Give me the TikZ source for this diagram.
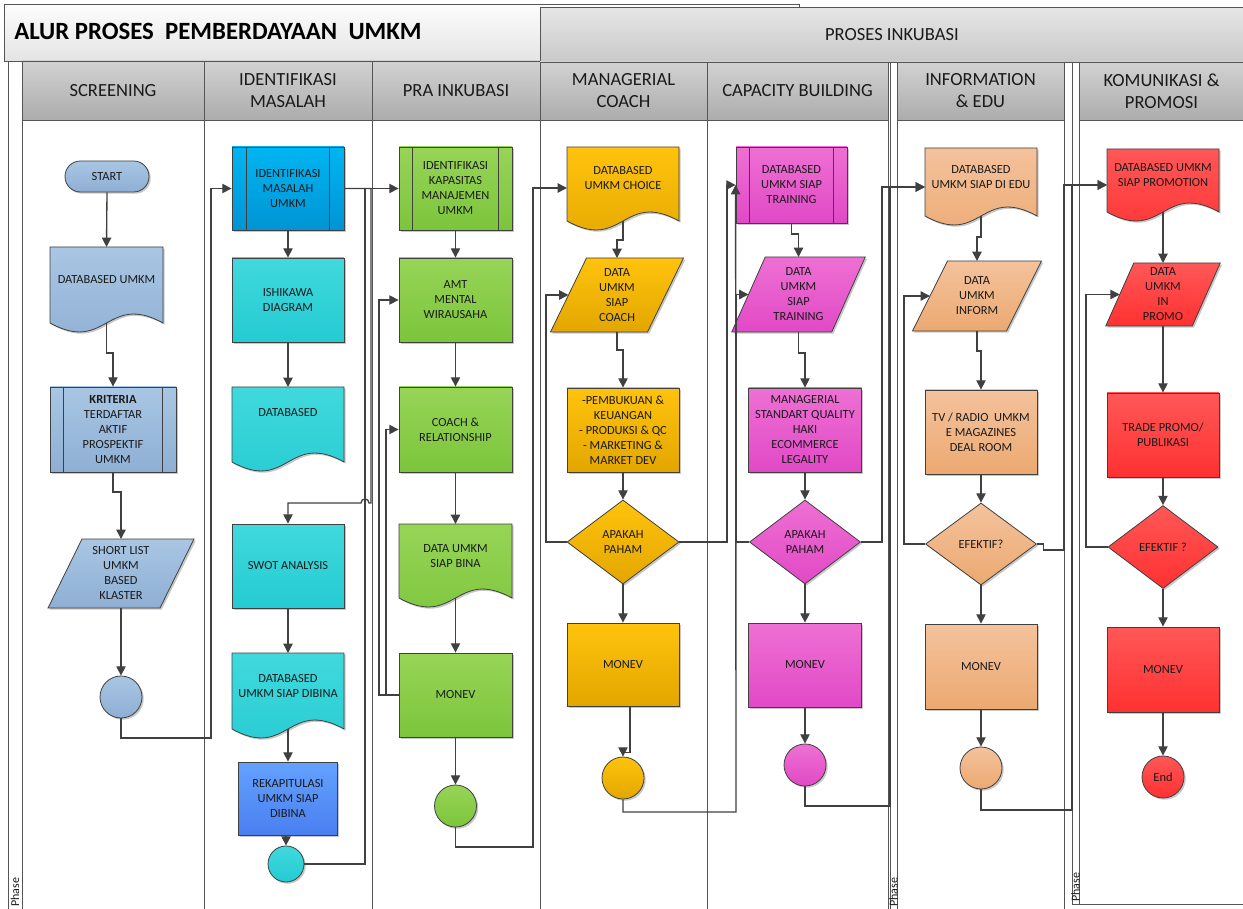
\documentclass[tikz,border=0pt]{standalone}
\usepackage{fontspec}
\setmainfont{Carlito}
\usetikzlibrary{arrows.meta,shapes.geometric,calc,shadows}

\definecolor{lineC}{HTML}{404040}
\definecolor{laneC}{HTML}{555555}
\definecolor{textC}{HTML}{1A1A1A}
\definecolor{sbT}{HTML}{A9C6E3}\definecolor{sbB}{HTML}{8EAFD4}
\definecolor{ibT}{HTML}{00B5F1}\definecolor{ibB}{HTML}{0094D4}
\definecolor{tqT}{HTML}{40D9DD}\definecolor{tqB}{HTML}{24CBD2}
\definecolor{rkT}{HTML}{64A2FF}\definecolor{rkB}{HTML}{4A7FF0}
\definecolor{grT}{HTML}{97D457}\definecolor{grB}{HTML}{7CC53B}
\definecolor{goT}{HTML}{FFC30D}\definecolor{goB}{HTML}{E3A600}
\definecolor{pkT}{HTML}{EE70D3}\definecolor{pkB}{HTML}{E149C6}
\definecolor{peT}{HTML}{F4C29C}\definecolor{peB}{HTML}{ECA971}
\definecolor{rdT}{HTML}{FF5757}\definecolor{rdB}{HTML}{FF3131}
\definecolor{hdT}{HTML}{D2D2D2}\definecolor{hdB}{HTML}{ACACAC}
\definecolor{piT}{HTML}{E6E6E6}\definecolor{piB}{HTML}{C9C9C9}
\definecolor{tiT}{HTML}{FDFDFD}\definecolor{tiB}{HTML}{E4E4E4}

\tikzset{
  bw/.code={\pgfmathsetmacro\tmpbw{(#1)*0.75}\edef\tmpcmd{\noexpand\pgfkeysalso{minimum width=\tmpbw pt}}\tmpcmd},
  bh/.code={\pgfmathsetmacro\tmpbh{(#1)*0.75}\edef\tmpcmd{\noexpand\pgfkeysalso{minimum height=\tmpbh pt}}\tmpcmd},
  shd/.style={drop shadow={shadow xshift=1.3pt,shadow yshift=-1.3pt,opacity=0.22,fill=black}},
  shp/.style={draw=lineC,line width=0.6pt,shd},
  btxt/.style={font=\fontsize{9.3}{11.25}\selectfont,text=textC,align=center},
  rbox/.style={rectangle,shp,btxt,inner sep=1pt},
  holder/.style={rectangle,draw=none,fill=none,inner sep=0pt,outer sep=0pt},
  ptxt/.style={rectangle,btxt,inner sep=0pt,outer sep=0pt},
  circ/.style={circle,shp,btxt,inner sep=0pt},
  dmd/.style={diamond,shp,btxt,inner sep=0pt},
  term/.style={rectangle,rounded corners=11.5pt,shp,btxt},
  fSB/.style={top color=sbT,bottom color=sbB},
  fIB/.style={top color=ibT,bottom color=ibB},
  fTQ/.style={top color=tqT,bottom color=tqB},
  fRK/.style={top color=rkT,bottom color=rkB},
  fGR/.style={top color=grT,bottom color=grB},
  fGO/.style={top color=goT,bottom color=goB},
  fPK/.style={top color=pkT,bottom color=pkB},
  fPE/.style={top color=peT,bottom color=peB},
  fRD/.style={top color=rdT,bottom color=rdB},
  conn/.style={draw=lineC,line width=1pt,-{Triangle[length=7pt,width=7pt]}},
  lane/.style={draw=laneC,line width=0.6pt},
  hdr/.style={rectangle,draw=laneC,line width=0.6pt,top color=hdT,bottom color=hdB,
     font=\fontsize{13.9}{16.5}\selectfont,text=textC,align=center,inner sep=0pt},
  phase/.style={rotate=90,anchor=west,font=\fontsize{9}{10}\selectfont,text=textC,inner sep=0pt}
}

% document shape: name, cx, top, w, h, fill, text, text y
\newcommand\docu[8]{%
  \node[holder,bw=#4,bh=#5] (#1) at (#2,{#3+#5/2}) {};
  \path[shp,#6] (#1.north west) -- (#1.north east) -- (#1.south east)
     .. controls ($(#1.south)+(0,-31)$) and ($(#1.south)+(0,31)$) .. (#1.south west) -- cycle;
  \node[ptxt] (#1t) at (#2,#8) {#7};
}
% parallelogram: name, cx, cy, w, h, offset, fill, text
\newcommand\para[8]{%
  \path[shp,#7] ({#2-#4/2+#6/2},{#3-#5/2}) -- ({#2+#4/2+#6/2},{#3-#5/2})
     -- ({#2+#4/2-#6/2},{#3+#5/2}) -- ({#2-#4/2-#6/2},{#3+#5/2}) -- cycle;
  \node[ptxt,bw={#4+#6},bh=#5] (#1) at (#2,#3) {#8};
  \coordinate (#1w) at ({#2-#4/2},#3);
}
% side bars of a predefined process box
\newcommand\bars[2]{%
  \draw[draw=lineC,line width=0.6pt]
    ([xshift=#2*0.75pt]#1.north west) -- ([xshift=#2*0.75pt]#1.south west)
    ([xshift=-#2*0.75pt]#1.north east) -- ([xshift=-#2*0.75pt]#1.south east);
}

\begin{document}
\begin{tikzpicture}[x=0.75pt,y=-0.75pt]
\useasboundingbox (0,0) rectangle (1243,909);

\coordinate (y185) at (0,185);
\coordinate (y187) at (0,187);
\coordinate (y188) at (0,188);

% ---------- title and top header ----------
\path[draw=laneC,line width=0.6pt,top color=tiT,bottom color=tiB] (4,4) rectangle (799,61);
\node[font=\bfseries\fontsize{18.6}{22}\selectfont,text=black,anchor=west,inner sep=0pt] (title) at (14,31.5) {ALUR PROSES\ \ PEMBERDAYAAN\ \ UMKM};
\node[rectangle,draw=laneC,line width=0.6pt,top color=piT,bottom color=piB,bw=703,bh=55,anchor=north west,
      font=\fontsize{13.9}{16.5}\selectfont,text=textC,inner sep=0pt] (pinkub) at (540,7) {PROSES INKUBASI};

% ---------- lanes ----------
\draw[lane] (8,61) -- (8,909) (22,61) -- (22,909)
  (204,120) -- (204,909) (372,120) -- (372,909) (540,120) -- (540,909)
  (707,120) -- (707,909) (888,62) -- (888,909);
\draw[lane] (890,62) -- (890,909) (897,62) -- (897,909) (1064,62) -- (1064,909);
\draw[lane] (1072,62) -- (1072,904) -- (1243,904) (1079,62) -- (1079,904);

\node[hdr,bw=182,bh=59] (h1) at (113,90.5) {SCREENING};
\node[hdr,bw=168,bh=59] (h2) at (288,90.5) {IDENTIFIKASI\\MASALAH};
\node[hdr,bw=168,bh=59] (h3) at (456,90.5) {PRA INKUBASI};
\node[hdr,bw=167,bh=58] (h4) at (623.5,91) {MANAGERIAL\\COACH};
\node[hdr,bw=181,bh=58] (h5) at (797.5,91) {CAPACITY BUILDING};
\node[hdr,bw=167,bh=58] (h6) at (980.5,91) {INFORMATION\\\& EDU};
\node[hdr,bw=165,bh=58] (h7) at (1161.5,91) {KOMUNIKASI \&\\PROMOSI};

\node[phase] (ph1) at (15,907) {Phase};
\node[phase] (ph2) at (893.5,907) {Phase};
\node[phase] (ph3) at (1075.5,902) {Phase};

% ---------- lane 1: screening ----------
\node[term,fSB,bw=84,bh=31] (start) at (107,176.5) {START};
\docu{d1}{106.5}{247}{113}{76}{fSB}{DATABASED UMKM}{280}
\node[rbox,fSB,bw=126,bh=85] (k1) at (113,429.5) {\textbf{KRITERIA}\\TERDAFTAR\\AKTIF\\PROSPEKTIF\\UMKM};
\bars{k1}{14}
\para{s1}{121}{573.5}{112}{69}{34}{fSB}{SHORT LIST\\UMKM\\BASED\\KLASTER}
\node[circ,fSB,bw=42,bh=42] (c1) at (121,697) {};

% ---------- lane 2 ----------
\node[rbox,fIB,bw=112,bh=83] (ima) at (288,188.5) {IDENTIFIKASI\\MASALAH\\UMKM};
\bars{ima}{15}
\node[rbox,fTQ,bw=112,bh=84] (ish) at (288,300) {ISHIKAWA\\DIAGRAM};
\docu{db2}{288}{387}{112}{75}{fTQ}{DATABASED}{413}
\node[rbox,fTQ,bw=112,bh=84] (swot) at (288,566) {SWOT ANALYSIS};
\docu{db3}{288}{653}{112}{76}{fTQ}{DATABASED\\UMKM SIAP DIBINA}{686.5}
\node[rbox,fRK,bw=99,bh=73] (rek) at (288,798.5) {REKAPITULASI\\UMKM SIAP\\DIBINA};
\node[circ,fTQ,bw=36,bh=36] (c2) at (286,864) {};

% ---------- lane 3 ----------
\node[rbox,fGR,bw=113,bh=83] (ika) at (455.5,188.5) {IDENTIFIKASI\\KAPASITAS\\MANAJEMEN\\UMKM};
\bars{ika}{14}
\node[rbox,fGR,bw=113,bh=84] (amt) at (455.5,300) {AMT\\MENTAL\\WIRAUSAHA};
\node[rbox,fGR,bw=113,bh=85] (coach) at (455.5,429.5) {COACH \&\\RELATIONSHIP};
\docu{db4}{455.5}{524}{113}{74}{fGR}{DATA UMKM\\SIAP BINA}{556.5}
\node[rbox,fGR,bw=113,bh=84] (mon3) at (455.5,695) {MONEV};
\node[circ,fGR,bw=42,bh=42] (c3) at (455.5,806) {};

% ---------- lane 4 ----------
\docu{db5}{623}{147}{112}{74}{fGO}{DATABASED\\UMKM CHOICE}{178.5}
\para{p4}{617}{295}{97}{74}{36}{fGO}{DATA\\UMKM\\SIAP\\COACH}
\node[rbox,fGO,bw=112,bh=84] (pb) at (623,430) {-PEMBUKUAN \&\\KEUANGAN\\- PRODUKSI \& QC\\- MARKETING \&\\MARKET DEV};
\node[dmd,fGO,bw=112,bh=84] (dm4) at (623,542) {APAKAH\\PAHAM};
\node[rbox,fGO,bw=112,bh=83] (mon4) at (623,664.5) {MONEV};
\node[circ,fGO,bw=42,bh=42] (c4) at (623,778) {};

% ---------- lane 5 ----------
\node[rbox,fPK,bw=111,bh=76] (db6) at (791.5,185) {DATABASED\\UMKM SIAP\\TRAINING};
\bars{db6}{14}
\para{p5}{798.5}{294.5}{100}{75}{33.5}{fPK}{DATA\\UMKM\\SIAP\\TRAINING}
\node[rbox,fPK,bw=113,bh=84] (mg) at (805,430) {MANAGERIAL\\STANDART QUALITY\\HAKI\\ECOMMERCE\\LEGALITY};
\node[dmd,fPK,bw=111,bh=84] (dm5) at (805,542) {APAKAH\\PAHAM};
\node[rbox,fPK,bw=113,bh=84] (mon5) at (805,665) {MONEV};
\node[circ,fPK,bw=42,bh=42] (c5) at (805,765) {};

% ---------- lane 6 ----------
\docu{db7}{981}{148}{112}{68}{fPE}{DATABASED\\UMKM SIAP DI EDU}{177.5}
\para{p6}{977}{296}{94}{70}{35}{fPE}{DATA\\UMKM\\INFORM}
\node[rbox,fPE,bw=112,bh=84] (tv) at (981,432) {TV / RADIO\ \ UMKM\\E MAGAZINES\\DEAL ROOM};
\node[dmd,fPE,bw=111,bh=82] (dm6) at (981,544) {EFEKTIF?};
\node[rbox,fPE,bw=112,bh=85] (mon6) at (981,666.5) {MONEV};
\node[circ,fPE,bw=42,bh=42] (c6) at (981,768) {};

% ---------- lane 7 ----------
\docu{db8}{1163}{149}{112}{63}{fRD}{DATABASED UMKM\\SIAP PROMOTION}{175.5}
\para{p7}{1163}{294.5}{86.5}{63}{28}{fRD}{DATA\\UMKM\\IN\\PROMO}
\node[rbox,fRD,bw=112,bh=84] (tp) at (1163,435) {TRADE PROMO/\\PUBLIKASI};
\node[dmd,fRD,bw=110,bh=83] (dm7) at (1163,547) {EFEKTIF ?};
\node[rbox,fRD,bw=112,bh=85] (mon7) at (1163,669.5) {MONEV};
\node[circ,fRD,bw=42,bh=42] (fin) at (1163,777) {End};

% ---------- connectors ----------
\draw[conn] (start.south) -- (d1.north);
\draw[conn] (d1.south) |- (113,353) -- (k1.north);
\draw[conn] (k1.south) |- (121,492) -- (s1.north);
\draw[conn] (s1.south) -- (c1.north);
\draw[conn] (c1.south) |- (211,738) |- (ima.west);

\draw[conn] (ima.south) -- (ish.north);
\draw[conn] (ish.south) -- (db2.north);
\draw[conn] (ima.east) -| (371,503) -- (369,503) .. controls (369,497.7) and (361,497.7) .. (361,503) -| (swot.north);
\draw[conn] (swot.south) -- (db3.north);
\draw[conn] (db3.south) -- (rek.north);
\draw[conn] (c2.north |- rek.south) -- (c2.north);
\draw[conn] (c2.east) -| (365,188.5) -- (ika.west);

\draw[conn] (ika.south) -- (amt.north);
\draw[conn] (amt.south) -- (coach.north);
\draw[conn] (coach.south) -- (db4.north);
\draw[conn] (db4.south) -- (mon3.north);
\draw[conn] (mon3.south) -- (c3.north);
\draw[conn] (mon3.west) -| (379,300) -- (amt.west);
\draw[conn] (mon3.west) -| (386,429.5) -- (coach.west);
\draw[conn] (c3.south) |- (533,847) |- (db5.west |- y188);

\draw[conn] (db5.south) |- (617,240) -- (p4.north);
\draw[conn] (p4.south) |- (623,350) -- (pb.north);
\draw[conn] (pb.south) -- (dm4.north);
\draw[conn] (dm4.south) -- (mon4.north);
\draw[conn] ($(mon4.south)+(7,0)$) -- ++(0,46) -| (c4.north);
\draw[conn] (dm4.west) -| (546,295) -- (p4w);
\draw[conn] (dm4.east) -| (727,185) -- (db6.west);
\draw[conn] (c4.south) |- (736,812) -- (db6.west);

\draw[conn] (db6.south) |- (798.5,234) -- (p5.north);
\draw[conn] (p5.south) |- (805,353) -- (mg.north);
\draw[conn] (mg.south) -- (dm5.north);
\draw[conn] (dm5.south) -- (mon5.north);
\draw[conn] (mon5.south) -- (c5.north);
\draw[conn] (dm5.west) -| (736,294.5) -- (p5w);
\draw[conn] (dm5.east) -| (882,187) -- (db7.west |- y187);
\draw[conn] (c5.south) |- (890,806) |- (db7.west |- y187);

\draw[conn] (db7.south) |- (977,237) -- (p6.north);
\draw[conn] (p6.south) |- (981,351) -- (tv.north);
\draw[conn] (tv.south) -- (dm6.north);
\draw[conn] (dm6.south) -- (mon6.north);
\draw[conn] (mon6.south) -- (c6.north);
\draw[conn] (dm6.west) -| (904,296) -- (p6w);
\draw[conn] (dm6.east) -- ++(6.5,0) -- ++(0,6) -| (1064,185) -- (db8.west |- y185);
\draw[conn] (c6.south) |- (1072,810) |- (db8.west |- y185);

\draw[conn] (db8.south) -- (p7.north);
\draw[conn] (p7.south) -- (tp.north);
\draw[conn] (tp.south) -- (dm7.north);
\draw[conn] (dm7.south) -- (mon7.north);
\draw[conn] (mon7.south) -- (fin.north);
\draw[conn] (dm7.west) -| (1086,294.5) -- (p7w);
\end{tikzpicture}
\end{document}
